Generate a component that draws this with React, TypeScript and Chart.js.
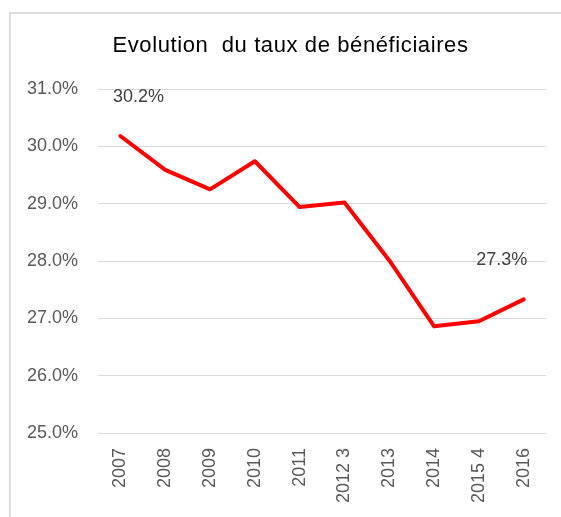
import React, { useEffect, useRef } from "react";
import { Chart, registerables } from "chart.js";

Chart.register(...registerables);

const TITLE = "Evolution  du taux de bénéficiaires";
const categories = ["2007", "2008", "2009", "2010", "2011", "2012 3", "2013", "2014", "2015 4", "2016"];
const rates = [30.18, 29.59, 29.25, 29.74, 28.94, 29.02, 28.01, 26.86, 26.95, 27.33];
const labelledPoints = [0, 9];
const yMin = 25;
const yMax = 31;
const yStep = 1;

const FONT = '"Liberation Sans", Arial, sans-serif';

const extrasPlugin = {
  id: "extras",
  afterDatasetsDraw(chart: any) {
    const ctx = chart.ctx;
    ctx.save();
    // title
    ctx.font = `22px ${FONT}`;
    ctx.fillStyle = "#000000";
    ctx.textAlign = "center";
    ctx.textBaseline = "alphabetic";
    try {
      (ctx as any).letterSpacing = "0.6px";
    } catch (e) {}
    ctx.fillText(TITLE, 279.5, 38);
    try {
      (ctx as any).letterSpacing = "0px";
    } catch (e) {}
    // data labels
    const meta = chart.getDatasetMeta(0);
    ctx.font = `18px ${FONT}`;
    ctx.fillStyle = "#404040";
    labelledPoints.forEach((i, k) => {
      const pt = meta.data[i];
      const dx = k === 0 ? 18 : -22;
      ctx.fillText(rates[i].toFixed(1) + "%", pt.x + dx, pt.y - 34);
    });
    ctx.restore();
  },
};

export default function App() {
  const ref = useRef<HTMLCanvasElement>(null);
  useEffect(() => {
    if (!ref.current) return;
    const chart = new Chart(ref.current, {
      type: "line",
      data: {
        labels: categories,
        datasets: [
          {
            data: rates,
            borderColor: "#ff0000",
            backgroundColor: "#ff0000",
            borderWidth: 4,
            pointRadius: 0,
            tension: 0,
            borderJoinStyle: "round",
            borderCapStyle: "round",
          },
        ],
      },
      options: {
        responsive: false,
        animation: false,
        layout: { padding: { top: 75, right: 13, bottom: 0, left: 0 } },
        plugins: { legend: { display: false }, title: { display: false }, tooltip: { enabled: false } },
        scales: {
          x: {
            offset: true,
            grid: { display: false, drawTicks: false },
            border: { display: false },
            ticks: {
              minRotation: 90,
              maxRotation: 90,
              padding: 15,
              color: "#595959",
              font: { family: FONT, size: 18 },
            },
            afterFit: (s: any) => {
              s.height = 84;
            },
          },
          y: {
            min: yMin,
            max: yMax,
            grid: { color: "#d9d9d9", lineWidth: 1, drawTicks: false },
            border: { display: false },
            ticks: {
              stepSize: yStep,
              padding: 20,
              color: "#595959",
              font: { family: FONT, size: 18 },
              callback: (v: any) => Number(v).toFixed(1) + "%",
            },
            afterFit: (s: any) => {
              s.width = 87;
            },
          },
        },
      },
      plugins: [extrasPlugin],
    });
    return () => chart.destroy();
  }, []);
  return (
    <div
      style={{
        position: "absolute",
        left: 9,
        top: 12,
        borderLeft: "2px solid #dedede",
        borderTop: "2px solid #dedede",
      }}
    >
      <canvas ref={ref} width={550} height={503} style={{ display: "block" }} />
    </div>
  );
}
